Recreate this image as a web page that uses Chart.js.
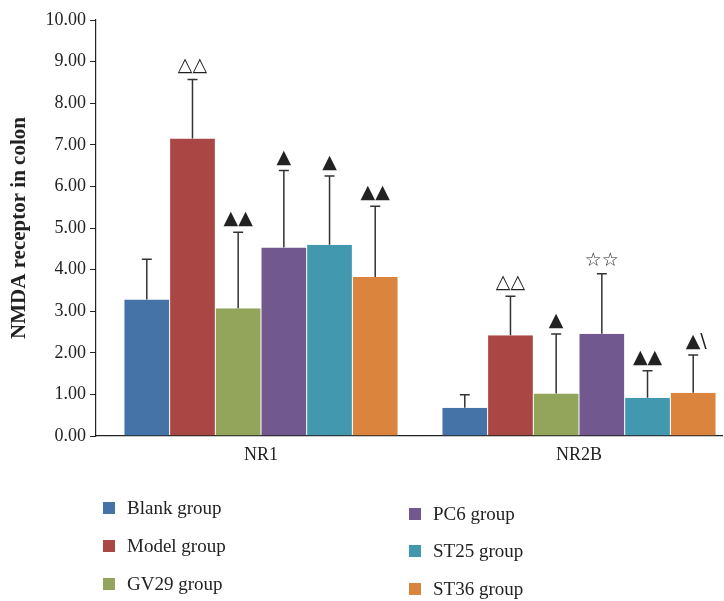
<!DOCTYPE html>
<html><head><meta charset="utf-8">
<script src="https://cdn.jsdelivr.net/npm/chart.js@4"></script>
<style>
html,body{margin:0;padding:0;background:#fff;}
#wrap{position:relative;width:724px;height:601px;overflow:hidden;}
#c{position:absolute;left:0;top:0;}
.lg{position:absolute;font-family:"Liberation Serif",serif;font-size:19px;color:#222;white-space:nowrap;line-height:20px;}
.lg span.sw{position:absolute;width:12px;height:12px;left:-24px;top:4px;}
</style></head>
<body><div id="wrap"><canvas id="c" width="724" height="601"></canvas></div>
<script>
const categories = ['NR1', 'NR2B'];
const seriesNames = ['Blank group', 'Model group', 'GV29 group', 'PC6 group', 'ST25 group', 'ST36 group'];
const blankMean = [3.28, 0.68];
const modelMean = [7.15, 2.42];
const gv29Mean  = [3.07, 1.02];
const pc6Mean   = [4.53, 2.46];
const st25Mean  = [4.60, 0.92];
const st36Mean  = [3.82, 1.04];
const blankSD = [0.97, 0.31];
const modelSD = [1.42, 0.94];
const gv29SD  = [1.83, 1.43];
const pc6SD   = [1.85, 1.44];
const st25SD  = [1.65, 0.65];
const st36SD  = [1.70, 0.91];
const blankMark = ['', ''];
const modelMark = ['\u25B3\u25B3', '\u25B3\u25B3'];
const gv29Mark  = ['\u25B2\u25B2', '\u25B2'];
const pc6Mark   = ['\u25B2', '\u2606\u2606'];
const st25Mark  = ['\u25B2', '\u25B2\u25B2'];
const st36Mark  = ['\u25B2\u25B2', '\u25B2\\'];
const yTicks = [0,1,2,3,4,5,6,7,8,9,10];

const colors = ['#4572A7', '#AA4643', '#93A55A', '#71588F', '#4198AF', '#DB843D'];
const means = [blankMean, modelMean, gv29Mean, pc6Mean, st25Mean, st36Mean];
const sds = [blankSD, modelSD, gv29SD, pc6SD, st25SD, st36SD];
const marks = [blankMark, modelMark, gv29Mark, pc6Mark, st25Mark, st36Mark];

const datasets = seriesNames.map((n, k) => ({
  label: n,
  data: categories.map((c, i) => ({x: i, y: means[k][i]})),
  backgroundColor: colors[k],
  borderColor: 'rgba(255,255,255,0.35)',
  borderWidth: {left: 0.5, right: 0.5, top: 0, bottom: 0},
  sd: sds[k], marks: marks[k],
  categoryPercentage: 0.862, barPercentage: 1.0
}));

const errPlugin = {
  id: 'err',
  afterDatasetsDraw(chart) {
    const ctx = chart.ctx, y = chart.scales.y;
    chart.data.datasets.forEach((ds, k) => {
      const meta = chart.getDatasetMeta(k);
      meta.data.forEach((bar, i) => {
        const top = y.getPixelForValue(ds.data[i].y + ds.sd[i]);
        const base = bar.y;
        ctx.save();
        ctx.strokeStyle = '#333';
        ctx.lineWidth = 1.5;
        ctx.beginPath();
        ctx.moveTo(bar.x, base); ctx.lineTo(bar.x, top);
        ctx.moveTo(bar.x - 5, top); ctx.lineTo(bar.x + 5, top);
        ctx.stroke();
        if (ds.marks[i]) {
          ctx.fillStyle = '#222';
          ctx.font = '19px "DejaVu Sans"';
          ctx.textAlign = 'center';
          ctx.textBaseline = 'alphabetic';
          ctx.fillText(ds.marks[i], bar.x + (ds.marks[i].endsWith('\\') ? 3 : 0), top - 8);
        }
        ctx.restore();
      });
    });
  }
};

new Chart(document.getElementById('c'), {
  type: 'bar',
  data: { datasets },
  plugins: [errPlugin],
  options: {
    responsive: false, animation: false,
    layout: { padding: { top: 20, right: 2, bottom: 135, left: 0 } },
    plugins: { legend: { display: false }, tooltip: { enabled: false } },
    scales: {
      x: {
        type: 'linear', min: -0.5189, max: 1.4497, offset: false,
        afterBuildTicks: s => { s.ticks = categories.map((c, i) => ({value: i})); },
        afterFit: s => { s.height = 30; },
        grid: { display: false },
        border: { display: true, color: '#222', width: 1.2 },
        ticks: { callback: v => categories[v], color: '#222', padding: 0,
                 font: { family: 'Liberation Serif', size: 18 }, maxRotation: 0 }
      },
      y: {
        min: 0, max: 10,
        afterBuildTicks: s => { s.ticks = yTicks.map(v => ({value: v})); },
        afterFit: s => { s.width = 96; },
        grid: { drawOnChartArea: false, drawTicks: true, tickLength: 6, color: '#222' },
        border: { display: true, color: '#222', width: 1.2 },
        ticks: { callback: v => v.toFixed(2), color: '#222', padding: 4,
                 font: { family: 'Liberation Serif', size: 18 } },
        title: { display: true, text: 'NMDA receptor in colon', color: '#222',
                 font: { family: 'Liberation Serif', size: 21, weight: 'bold' },
                 padding: { top: 7, bottom: 0 } }
      }
    }
  }
});

const wrap = document.getElementById('wrap');
const legendPos = [[127, 498], [127, 536], [127, 574], [433, 504], [433, 541], [433, 579]];
seriesNames.forEach((n, k) => {
  const d = document.createElement('div');
  d.className = 'lg';
  d.style.left = legendPos[k][0] + 'px';
  d.style.top = legendPos[k][1] + 'px';
  d.innerHTML = '<span class="sw" style="background:' + colors[k] + '"></span>';
  d.appendChild(document.createTextNode(n));
  wrap.appendChild(d);
});
</script></body></html>
